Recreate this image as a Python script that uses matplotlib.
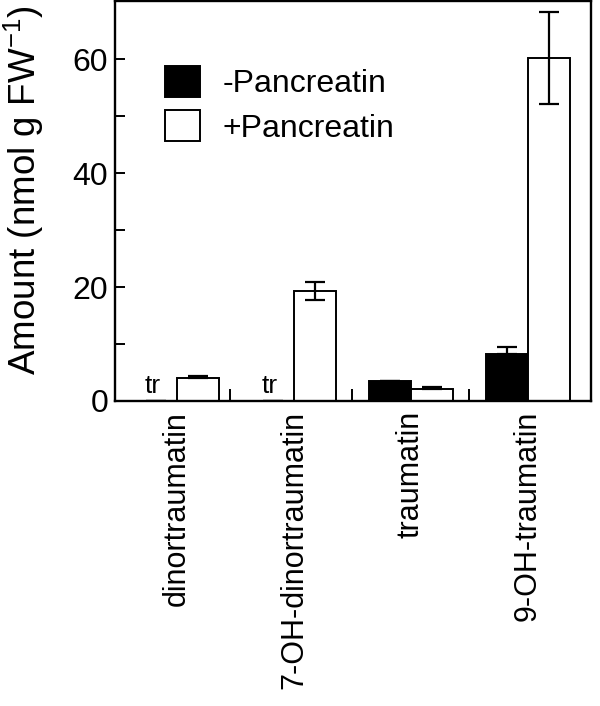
import matplotlib
matplotlib.use("Agg")
import matplotlib.pyplot as plt
from matplotlib.patches import Patch
import numpy as np

plt.rcParams['font.family'] = ['Liberation Sans', 'DejaVu Sans']
plt.rcParams['mathtext.fontset'] = 'custom'
plt.rcParams['mathtext.rm'] = 'Liberation Sans'
plt.rcParams['mathtext.it'] = 'Liberation Sans'

categories = ["dinortraumatin", "7-OH-dinortraumatin", "traumatin", "9-OH-traumatin"]
minus_vals = [0.0, 0.0, 3.5, 8.2]
minus_err = [0.0, 0.0, 0.0, 1.2]
plus_vals = [4.1, 19.3, 2.1, 60.2]
plus_err = [0.25, 1.6, 0.3, 8.1]
trace = [True, True, False, False]
series_labels = ["-Pancreatin", "+Pancreatin"]
yticks_major = [0, 20, 40, 60]
yticks_minor = [10, 30, 50]

fig = plt.figure(figsize=(6.0, 7.06), dpi=100)
ax = fig.add_axes([115/600, 1-401/706, (591-115)/600, 400/706])

x = np.arange(len(categories))
w = 0.36
lw = 1.4
err_kw = dict(ecolor='black', elinewidth=1.6, capsize=7, capthick=1.6)

minus_plot = [v if not t else 0 for v, t in zip(minus_vals, trace)]
minus_e = [e if v > 0 else 0 for v, e in zip(minus_plot, minus_err)]
yerr_plus_full = [[e if v > 10 else 0 for v, e in zip(plus_vals, plus_err)], plus_err]
yerr_minus_full = [[0]*len(minus_e), minus_e]

ax.bar(x - w/2, minus_plot, w, color='black', edgecolor='black', linewidth=lw,
       yerr=yerr_minus_full, error_kw=err_kw, zorder=2)
ax.bar(x + w/2, plus_vals, w, color='white', edgecolor='black', linewidth=lw,
       yerr=yerr_plus_full, error_kw=err_kw, zorder=2)

for xi, t in zip(x, trace):
    if t:
        ax.text(xi - w/2 - 0.03, 2.6, "tr", ha='center', va='center', fontsize=19)

ax.set_xlim(-0.53, 3.54)
ax.set_ylim(0, 70.2)
ax.set_yticks(yticks_major)
ax.set_yticks(yticks_minor, minor=True)
ax.tick_params(axis='y', which='both', direction='in', length=7, width=1.4, labelsize=23, pad=5)
ax.set_xticks(x)
ax.set_xticklabels(categories, rotation=90, fontsize=22, va='top', ha='center')
ax.tick_params(axis='x', which='major', length=0, pad=7)
ax.set_xticks([0.45, 1.5, 2.5], minor=True)
ax.tick_params(axis='x', which='minor', direction='in', length=9, width=1.4)

for s in ax.spines.values():
    s.set_linewidth(1.7)

fig.text(24/600, 1-190/706, "Amount (nmol g FW$^{-1}$)", rotation=90,
         ha='center', va='center', fontsize=26.5)

handles = [Patch(facecolor='black', edgecolor='black', linewidth=lw),
           Patch(facecolor='white', edgecolor='black', linewidth=lw)]
leg = ax.legend(handles, series_labels, loc='upper left',
                bbox_to_anchor=(165/600, 1-66/706), bbox_transform=fig.transFigure,
                frameon=False, fontsize=23, handlelength=1.1, handleheight=1.1,
                handletextpad=0.7, labelspacing=0.35, borderpad=0, borderaxespad=0)

fig.savefig("out.png", dpi=100)
